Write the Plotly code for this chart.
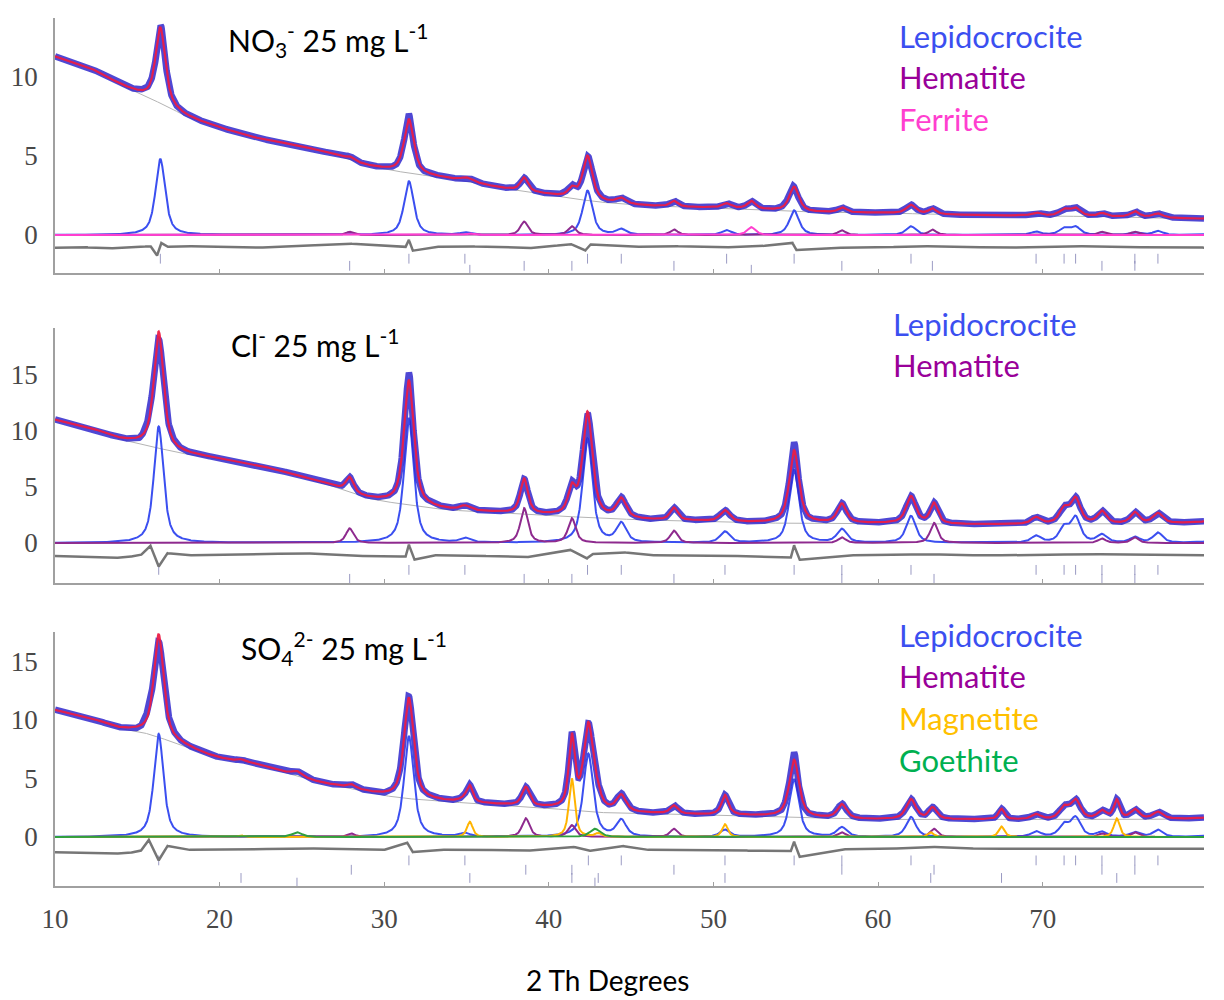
import numpy as np
import plotly.graph_objects as go

# ------------------------------------------------------------------ data
X_MIN, X_MAX = 10.0, 79.8
x_ticks = [10, 20, 30, 40, 50, 60, 70]

# ---- Panel 1 : NO3-
bg1_x = [10, 12, 14, 15.3, 16.9, 18, 20, 22, 25, 27, 29, 31, 33, 35, 37, 40, 43, 46, 49, 53, 56, 60, 65, 70, 75, 79.8]
bg1_y = [11.3, 10.6, 9.5, 8.86, 8.1, 7.5, 6.8, 6.2, 5.6, 5.06, 4.4, 4.0, 3.7, 3.4, 3.0, 2.55, 2.1, 1.85, 1.75, 1.6, 1.45, 1.4, 1.27, 1.2, 1.15, 1.0]
lep1_pos = [16.4, 31.5, 34.9, 42.35, 44.4, 50.8, 54.9, 62.0, 69.6, 71.3, 72.0, 75.6, 77.0, 80.6]
lep1_h = [4.8, 3.4, 0.15, 2.8, 0.35, 0.3, 1.55, 0.55, 0.2, 0.4, 0.5, 0.15, 0.25, 0.4]
hem1_pos = [27.9, 38.5, 41.4, 47.6, 57.8, 63.3, 73.6, 75.6]
hem1_h = [0.2, 0.85, 0.55, 0.35, 0.3, 0.35, 0.2, 0.2]
fer1_pos = [35.2, 52.3]
fer1_h = [0.1, 0.5]
diff1_x = [10, 11.5, 13, 14.5, 15.8, 16.2, 16.45, 16.8, 18, 20, 22.5, 25, 26.5, 28, 30, 31.3, 31.5, 31.7, 33, 35, 38.4, 40, 41.3, 42.2, 42.5, 45, 47.5, 50, 52.5, 54.8, 55.0, 57, 60, 62, 65, 68, 70, 72, 75, 77.5, 79.8]
diff1_y = [-0.8, -0.75, -0.85, -0.8, -0.7, -1.3, -0.5, -0.75, -0.7, -0.75, -0.8, -0.7, -0.6, -0.55, -0.7, -0.75, -0.3, -1.0, -0.75, -0.7, -0.85, -0.75, -0.55, -1.0, -0.6, -0.75, -0.7, -0.8, -0.75, -0.5, -0.95, -0.8, -0.8, -0.7, -0.75, -0.8, -0.75, -0.7, -0.8, -0.75, -0.8]

# ---- Panel 2 : Cl-
bg2_x = [10, 12, 14, 15.1, 17.4, 20, 22, 25, 27, 29, 31, 34, 37, 40, 43.5, 46, 49, 52.5, 56, 60, 66, 70, 75, 79.8]
bg2_y = [11.0, 10.3, 9.25, 8.9, 8.1, 7.5, 7.0, 5.9, 5.0, 4.0, 3.5, 2.95, 2.7, 2.45, 2.2, 2.05, 1.95, 1.8, 1.75, 1.75, 1.65, 1.65, 1.7, 1.8]
lep2_pos = [16.3, 31.5, 34.9, 42.35, 44.4, 50.7, 54.9, 57.8, 62.0, 69.6, 71.3, 72.0, 73.6, 75.6, 77.0, 80.6]
lep2_h = [10.4, 11.1, 0.4, 9.3, 1.7, 1.0, 6.5, 1.2, 2.4, 0.6, 1.3, 2.2, 0.7, 0.5, 0.9, 1.0]
hem2_pos = [27.9, 38.5, 41.4, 47.6, 57.8, 63.4, 73.6, 75.6]
hem2_h = [1.3, 3.1, 2.2, 1.1, 0.5, 1.8, 0.4, 0.5]
diff2_x = [10, 11.5, 13, 14.2, 15.2, 15.8, 16.3, 16.8, 18, 20, 22.5, 25, 28, 31.3, 31.5, 31.8, 33, 35, 38.5, 41.3, 42.3, 42.6, 44.4, 46, 48, 51, 54.7, 54.9, 55.2, 58, 60, 63, 66, 70, 72, 75, 77.5, 79.8]
diff2_y = [-1.15, -1.25, -1.35, -1.3, -1.1, -0.25, -2.1, -0.9, -1.1, -1.05, -1.0, -0.9, -1.15, -1.2, -0.15, -1.5, -1.1, -1.1, -1.3, -0.6, -1.4, -1.0, -0.8, -1.1, -1.1, -1.15, -1.3, -0.2, -1.5, -1.1, -1.1, -1.0, -1.1, -1.1, -1.0, -1.0, -1.05, -1.1]

# ---- Panel 3 : SO4 2-
bg3_x = [10, 12, 14, 15.1, 17.4, 20, 22, 24, 26, 28, 30, 31, 34, 37, 40, 43, 46, 49, 52.5, 58, 60, 66, 70, 75, 79.8]
bg3_y = [10.85, 10.2, 9.25, 9.0, 8.0, 6.75, 6.3, 5.5, 4.7, 4.15, 3.55, 3.35, 3.0, 2.75, 2.45, 2.1, 2.0, 1.9, 1.8, 1.55, 1.5, 1.5, 1.45, 1.5, 1.55]
lep3_pos = [16.3, 31.5, 34.9, 42.4, 44.4, 50.7, 54.9, 57.8, 62.0, 69.6, 71.3, 72.0, 73.6, 75.6, 77.0, 80.6]
lep3_h = [8.8, 8.6, 0.3, 7.1, 1.4, 0.6, 4.9, 0.8, 1.7, 0.45, 1.0, 1.6, 0.4, 0.4, 0.6, 0.8]
hem3_pos = [28.0, 38.6, 41.4, 47.6, 57.8, 63.4, 73.6, 75.6]
hem3_h = [0.3, 1.6, 1.0, 0.7, 0.4, 0.7, 0.3, 0.4]
mag3_pos = [21.3, 35.2, 41.4, 43.0, 50.7, 63.2, 67.5, 74.5]
mag3_h = [0.15, 1.3, 5.0, 0.3, 1.1, 0.4, 0.9, 1.6]
goe3_pos = [24.7, 42.8]
goe3_h = [0.4, 0.7]
diff3_x = [10, 11.5, 13, 14.3, 15.2, 15.7, 16.3, 16.8, 18, 20, 22.5, 25, 27.5, 30, 31.4, 31.7, 33, 35, 38.5, 41.4, 42.4, 44.4, 46, 48, 51, 54.7, 54.9, 55.2, 58, 60, 63.4, 66, 70, 72, 75, 77.5, 79.8]
diff3_y = [-1.3, -1.35, -1.45, -1.4, -1.2, -0.25, -2.0, -0.75, -1.1, -1.1, -1.05, -0.95, -1.05, -1.1, -0.5, -1.3, -1.1, -1.05, -1.2, -0.8, -1.2, -0.75, -1.1, -1.1, -1.15, -1.2, -0.4, -1.7, -1.05, -1.05, -0.85, -1.0, -1.0, -0.95, -1.0, -0.95, -1.0]

# ------------------------------------------------------------------ styles
C_OBS = "rgba(48,40,205,0.85)"
C_CALC = "rgba(235,30,70,0.95)"
C_BG = "#b4b4b4"
C_DIFF = "#767676"
C_TICK = "rgba(120,120,175,0.75)"
C_LEP = "#3b4ff0"
C_HEM = "#8e2a8e"
C_FER = "#ff3fcf"
C_MAG = "#ffb400"
C_GOE = "#2f9f3f"
FWHM = {"lep": 0.7, "hem": 0.55, "fer": 0.6, "mag": 0.42, "goe": 0.75}

STEP = 0.02
xg = np.arange(X_MIN, X_MAX + 1e-9, STEP)


def pchip(xk, yk, x):
    xk = np.asarray(xk, float)
    yk = np.asarray(yk, float)
    h = np.diff(xk)
    d = np.diff(yk) / h
    n = len(xk)
    m = np.zeros(n)
    m[0], m[-1] = d[0], d[-1]
    for i in range(1, n - 1):
        if d[i - 1] * d[i] <= 0:
            m[i] = 0.0
        else:
            w1 = 2 * h[i] + h[i - 1]
            w2 = h[i] + 2 * h[i - 1]
            m[i] = (w1 + w2) / (w1 / d[i - 1] + w2 / d[i])
    idx = np.clip(np.searchsorted(xk, x) - 1, 0, n - 2)
    t = (x - xk[idx]) / h[idx]
    h00 = 2 * t ** 3 - 3 * t ** 2 + 1
    h10 = t ** 3 - 2 * t ** 2 + t
    h01 = -2 * t ** 3 + 3 * t ** 2
    h11 = t ** 3 - t ** 2
    return h00 * yk[idx] + h10 * h[idx] * m[idx] + h01 * yk[idx + 1] + h11 * h[idx] * m[idx + 1]


def profile(pos, h, fwhm, eta=0.7):
    out = np.zeros_like(xg)
    for p, a in zip(pos, h):
        d = (xg - p) / (fwhm / 2.0)
        out += a * (eta / (1 + d * d) + (1 - eta) * np.exp(-np.log(2) * d * d))
    return out


def running_mean(y, width_deg):
    k = max(1, int(round(width_deg / STEP)))
    pad = np.pad(y, (k // 2, k - 1 - k // 2), mode="edge")
    return np.convolve(pad, np.ones(k) / k, mode="valid")


fig = go.Figure()

panels = [
    dict(n=1, bgx=bg1_x, bgy=bg1_y, dx=diff1_x, dy=diff1_y,
         phases=[("lep", lep1_pos, lep1_h, C_LEP), ("hem", hem1_pos, hem1_h, C_HEM),
                 ("fer", fer1_pos, fer1_h, C_FER)],
         rows=[-1.5, -1.95, -2.2]),
    dict(n=2, bgx=bg2_x, bgy=bg2_y, dx=diff2_x, dy=diff2_y,
         phases=[("lep", lep2_pos, lep2_h, C_LEP), ("hem", hem2_pos, hem2_h, C_HEM)],
         rows=[-2.4, -3.2]),
    dict(n=3, bgx=bg3_x, bgy=bg3_y, dx=diff3_x, dy=diff3_y,
         phases=[("lep", lep3_pos, lep3_h, C_LEP), ("hem", hem3_pos, hem3_h, C_HEM),
                 ("mag", mag3_pos, mag3_h, C_MAG), ("goe", goe3_pos, goe3_h, C_GOE)],
         rows=[-2.0, -2.8, -3.5, -3.9]),
]

for P in panels:
    xa = "x" if P["n"] == 1 else f"x{P['n']}"
    ya = "y" if P["n"] == 1 else f"y{P['n']}"
    bg = pchip(P["bgx"], P["bgy"], xg)
    comps = [(profile(pos, h, FWHM[k]), col) for k, pos, h, col in P["phases"]]
    calc = bg + sum(c for c, _ in comps)
    diff = np.interp(xg, P["dx"], P["dy"])
    obs = calc + 0.7 * (diff - running_mean(diff, 2.0))

    for (k, pos, h, col), ry in zip(P["phases"], P["rows"]):
        pp = [p for p in pos if p <= X_MAX]
        fig.add_trace(go.Scatter(x=pp, y=[ry] * len(pp), mode="markers", xaxis=xa, yaxis=ya,
                                 marker=dict(symbol="line-ns-open", size=7, color=C_TICK,
                                             line=dict(width=1, color=C_TICK)),
                                 hoverinfo="skip", showlegend=False))
    fig.add_trace(go.Scatter(x=xg, y=diff, mode="lines", xaxis=xa, yaxis=ya,
                             line=dict(color=C_DIFF, width=2.5), showlegend=False))
    fig.add_trace(go.Scatter(x=xg, y=bg, mode="lines", xaxis=xa, yaxis=ya,
                             line=dict(color=C_BG, width=1), showlegend=False))
    for c, col in comps:
        fig.add_trace(go.Scatter(x=xg, y=c, mode="lines", xaxis=xa, yaxis=ya,
                                 line=dict(color=col, width=2), showlegend=False))
    fig.add_trace(go.Scatter(x=xg, y=obs, mode="lines", xaxis=xa, yaxis=ya,
                             line=dict(color=C_OBS, width=6.5), showlegend=False))
    fig.add_trace(go.Scatter(x=xg, y=calc, mode="lines", xaxis=xa, yaxis=ya,
                             line=dict(color=C_CALC, width=2.2), showlegend=False))

W, H = 1224, 1000
xdom = [55 / W, 1204 / W]
doms = {1: (18, 273, 235, 15.8), 2: (328, 583, 543, 11.2), 3: (632, 886, 837, 11.7)}
yticks = {1: [0, 5, 10], 2: [0, 5, 10, 15], 3: [0, 5, 10, 15]}

tick_font = dict(family="Liberation Serif", size=27, color="#484848")
layout = dict(width=W, height=H, margin=dict(l=0, r=0, t=0, b=0, autoexpand=False),
              paper_bgcolor="white", plot_bgcolor="white", showlegend=False)
for n, (top, bot, zero, ppu) in doms.items():
    xk = "xaxis" if n == 1 else f"xaxis{n}"
    yk = "yaxis" if n == 1 else f"yaxis{n}"
    ya = "y" if n == 1 else f"y{n}"
    layout[xk] = dict(domain=xdom, range=[X_MIN, X_MAX], anchor=ya, automargin=False,
                      showline=True, linecolor="#a0a0a0", linewidth=1.5,
                      showgrid=False, zeroline=False, tickvals=x_ticks,
                      ticks="inside", ticklen=4, tickcolor="#a0a0a0",
                      showticklabels=(n == 3), tickfont=tick_font, ticklabelstandoff=8)
    if n != 1:
        layout[xk]["matches"] = "x"
    layout[yk] = dict(domain=[1 - bot / H, 1 - top / H],
                      range=[(zero - bot) / ppu, (zero - top) / ppu],
                      anchor="x" if n == 1 else f"x{n}", automargin=False,
                      showline=True, linecolor="#a0a0a0", linewidth=1.5,
                      showgrid=False, zeroline=False, tickvals=yticks[n],
                      ticks="", tickfont=tick_font, ticklabelstandoff=10)
fig.update_layout(**layout)

SANS = "Lato"


def ann(text, px, py, size, color="black"):
    fig.add_annotation(text=text, x=px / W, y=1 - py / H, xref="paper", yref="paper",
                       xanchor="left", yanchor="middle", showarrow=False,
                       font=dict(family=SANS, size=size, color=color))


ann("NO<sub>3</sub><sup>-</sup> 25 mg L<sup>-1</sup>", 226, 40, 30)
ann("Cl<sup>-</sup> 25 mg L<sup>-1</sup>", 229, 343, 30)
ann("SO<sub>4</sub><sup>2-</sup> 25 mg L<sup>-1</sup>", 239, 648, 30)

legend_sets = [
    (897, [(36, "Lepidocrocite", C_LEP), (77, "Hematite", "#990099"), (119, "Ferrite", C_FER)]),
    (891, [(324, "Lepidocrocite", C_LEP), (365, "Hematite", "#990099")]),
    (897, [(635, "Lepidocrocite", C_LEP), (676, "Hematite", "#990099"),
           (718, "Magnetite", "#ffc000"), (760, "Goethite", "#00b050")]),
]
for lx, items in legend_sets:
    for ly, t, col in items:
        ann(t, lx, ly, 31, col)

fig.add_annotation(text="2 Th Degrees", x=607 / W, y=1 - 980 / H, xref="paper", yref="paper",
                   xanchor="center", yanchor="middle", showarrow=False,
                   font=dict(family=SANS, size=28, color="black"))

fig.write_html("out.html", config={"displayModeBar": False},
               post_script="document.body.style.margin='0px';document.body.style.padding='0px';")
